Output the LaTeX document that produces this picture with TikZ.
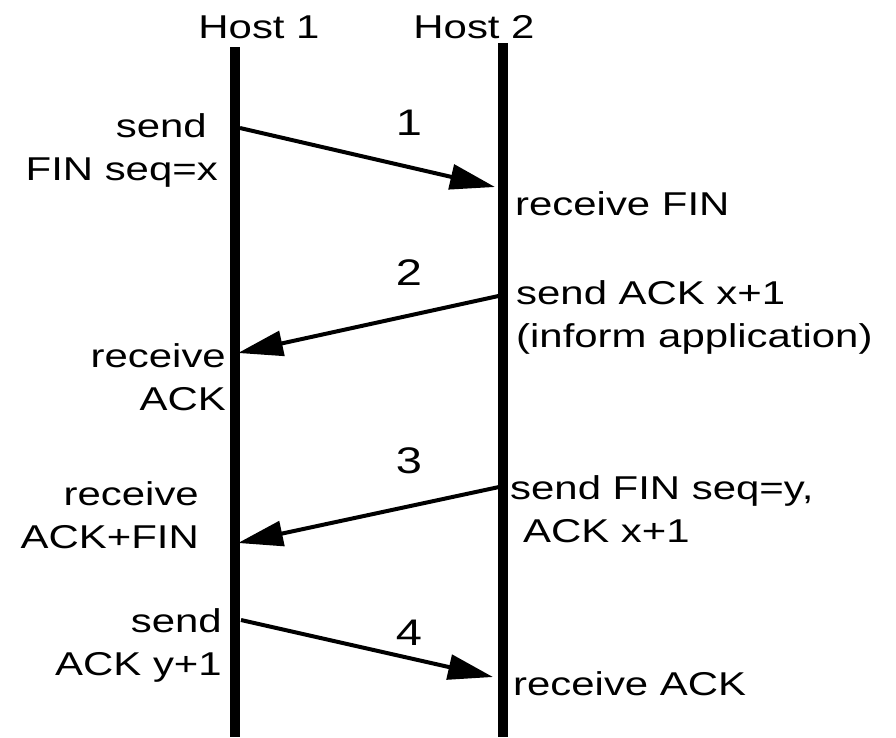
\documentclass[tikz,border=0pt]{standalone}
\usepackage{fontspec}
\setmainfont{Liberation Sans}[FakeStretch=1.27]
\usetikzlibrary{arrows.meta}

\begin{document}
\begin{tikzpicture}[x=1pt,y=-1pt,>={Triangle[length=45pt,width=25pt]},
    lifeline/.style={line width=10pt},
    msg/.style={->,line width=4pt},
    txt/.style={inner sep=0pt,font=\fontsize{33}{43}\selectfont},
    num/.style={inner sep=0pt,anchor=base,font=\fontsize{37}{43}\selectfont}]
  \useasboundingbox (0,0) rectangle (896,737);
  % hosts and their time lines
  \node[txt,anchor=base] (h1) at (259,38) {Host 1};
  \node[txt,anchor=base] (h2) at (474,38) {Host 2};
  \coordinate (t1) at (234.5,47); \coordinate (b1) at (234.5,737);
  \coordinate (t2) at (502.5,43); \coordinate (b2) at (502.5,737);
  \draw[lifeline] (t1) -- (b1);
  \draw[lifeline] (t2) -- (b2);
  % segments
  \coordinate (s1) at (240,128); \coordinate (r1) at (495,187);
  \coordinate (s2) at (503,295); \coordinate (r2) at (238,353);
  \coordinate (s3) at (499,487); \coordinate (r3) at (238,543);
  \coordinate (s4) at (241,620); \coordinate (r4) at (493,677);
  \foreach \u/\v in {s1/r1,s2/r2,s3/r3,s4/r4}\draw[msg] (\u)--(\v);
  \foreach \n/\y in {1/135,2/285,3/473,4/645}\node[num] (n\n) at (409,\y) {\n};
  % host 1 side
  \node[txt,align=right,anchor=base east] (snd1) at (218,180) {send\hspace*{11pt}\\FIN seq=x};
  \node[txt,align=right,anchor=base east] (rcv2) at (226,410) {receive\\ACK};
  \node[txt,align=right,anchor=base east] (rcv3) at (199,548) {receive\\ACK+FIN};
  \node[txt,align=right,anchor=base east] (snd4) at (222,675) {send\\ACK y+1};
  % host 2 side
  \node[txt,anchor=base west] (rcv1) at (515,215) {receive FIN};
  \node[txt,align=left,anchor=base west] (snd2) at (516,347) {send ACK x+1\\(inform application)};
  \node[txt,align=left,anchor=base west] (snd3) at (510,542) {send FIN seq=y,\\\hspace*{13pt}ACK x+1};
  \node[txt,anchor=base west] (rcv4) at (513,695) {receive ACK};
\end{tikzpicture}
\end{document}
